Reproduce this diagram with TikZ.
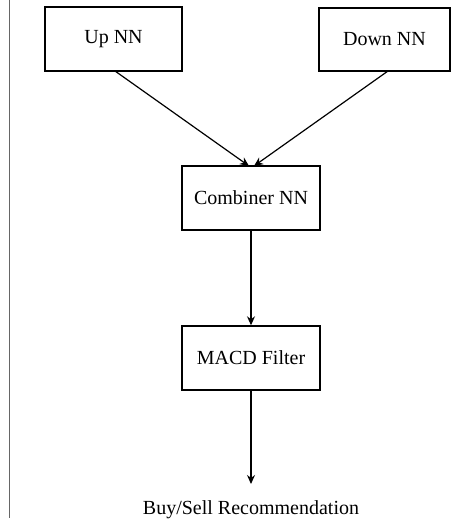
\documentclass[tikz,border=0pt]{standalone}
\usepackage{fontspec}
\setmainfont{Liberation Serif}
\usetikzlibrary{arrows.meta}
\begin{document}
\begin{tikzpicture}[x=1pt,y=-1pt,
  blk/.style={draw,line width=1.4pt,inner sep=0pt,font=\fontsize{20}{24}\selectfont},
  conn/.style={line width=1.2pt,-{Stealth[length=9pt,width=8pt]}},
  lbl/.style={font=\fontsize{20}{24}\selectfont}]
\useasboundingbox (0,0) rectangle (451,524);
\draw[gray!80!black,line width=1pt] (9.5,0) -- (9.5,518);
\node[blk,minimum width=137pt,minimum height=64pt] (up) at (113.5,39) {Up NN};
\node[blk,minimum width=131pt,minimum height=63pt] (down) at (384.5,39.5) {Down NN};
\node[blk,minimum width=138pt,minimum height=64pt] (comb) at (251,198) {Combiner NN};
\node[blk,minimum width=138pt,minimum height=64pt] (macd) at (251,358) {MACD Filter};
\coordinate (upout) at (115,71);
\coordinate (downout) at (388,71);
\coordinate (combin1) at (249,166);
\coordinate (combin2) at (254,166);
\coordinate (out) at (251,484);
\node[lbl] (rec) at (251,510) {Buy/Sell Recommendation};
\draw[conn] (upout) -- (combin1);
\draw[conn] (downout) -- (combin2);
\draw[conn] (comb.south) -- (macd.north);
\draw[conn] (macd.south) -- (out);
\end{tikzpicture}
\end{document}
